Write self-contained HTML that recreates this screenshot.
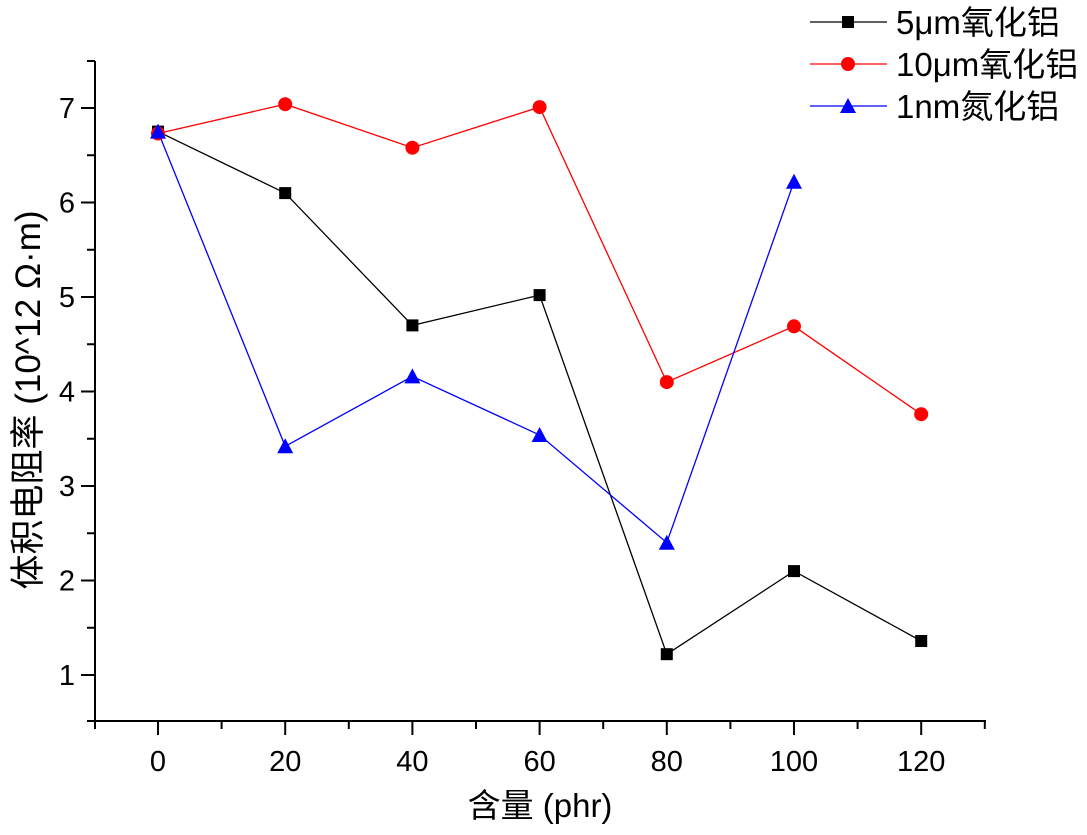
<!DOCTYPE html>
<html><head><meta charset="utf-8"><style>
html,body{margin:0;padding:0;background:#fff;}
svg text{font-family:"Liberation Sans","Noto Sans CJK SC",sans-serif;fill:#000;}
</style></head><body>
<svg width="1087" height="830" viewBox="0 0 1087 830" xmlns="http://www.w3.org/2000/svg">
<g stroke="#000" stroke-width="2" fill="none">
<line x1="95" y1="61" x2="95" y2="722"/>
<line x1="94" y1="721" x2="986" y2="721"/>
</g>
<g stroke="#000" stroke-width="2">
<line x1="158" y1="721" x2="158" y2="735"/><line x1="285.2" y1="721" x2="285.2" y2="735"/>
<line x1="412.4" y1="721" x2="412.4" y2="735"/><line x1="539.6" y1="721" x2="539.6" y2="735"/>
<line x1="666.8" y1="721" x2="666.8" y2="735"/><line x1="794" y1="721" x2="794" y2="735"/>
<line x1="921.2" y1="721" x2="921.2" y2="735"/>
<line x1="95" y1="721" x2="95" y2="729"/><line x1="221.6" y1="721" x2="221.6" y2="729"/>
<line x1="348.8" y1="721" x2="348.8" y2="729"/><line x1="476" y1="721" x2="476" y2="729"/>
<line x1="603.2" y1="721" x2="603.2" y2="729"/><line x1="730.4" y1="721" x2="730.4" y2="729"/>
<line x1="857.6" y1="721" x2="857.6" y2="729"/><line x1="984.8" y1="721" x2="984.8" y2="729"/>
<line x1="81" y1="675" x2="95" y2="675"/><line x1="81" y1="580.5" x2="95" y2="580.5"/>
<line x1="81" y1="486" x2="95" y2="486"/><line x1="81" y1="391.5" x2="95" y2="391.5"/>
<line x1="81" y1="297" x2="95" y2="297"/><line x1="81" y1="202.5" x2="95" y2="202.5"/>
<line x1="81" y1="108" x2="95" y2="108"/>
<line x1="87" y1="721" x2="95" y2="721"/><line x1="87" y1="627.75" x2="95" y2="627.75"/>
<line x1="87" y1="533.25" x2="95" y2="533.25"/><line x1="87" y1="438.75" x2="95" y2="438.75"/>
<line x1="87" y1="344.25" x2="95" y2="344.25"/><line x1="87" y1="249.75" x2="95" y2="249.75"/>
<line x1="87" y1="155.25" x2="95" y2="155.25"/><line x1="87" y1="61" x2="95" y2="61"/>
</g>
<g font-size="29" text-anchor="middle">
<text x="158" y="771">0</text><text x="285.2" y="771">20</text><text x="412.4" y="771">40</text>
<text x="539.6" y="771">60</text><text x="666.8" y="771">80</text><text x="794" y="771">100</text><text x="921.2" y="771">120</text>
</g>
<g font-size="29" text-anchor="end">
<text x="75" y="685">1</text><text x="75" y="590.5">2</text><text x="75" y="496">3</text>
<text x="75" y="401.5">4</text><text x="75" y="307">5</text><text x="75" y="212.5">6</text><text x="75" y="118">7</text>
</g>
<text x="540" y="817" font-size="33" text-anchor="middle">含量 (phr)</text>
<text transform="translate(40,400) rotate(-90)" font-size="35" text-anchor="middle">体积电阻率 (10^12  Ω·m)</text>

<polyline fill="none" stroke="#000" stroke-width="1.3" points="158,131.6 285.2,193.1 412.4,325.4 539.6,295.1 666.8,654.2 794,571.1 921.2,641"/>
<polyline fill="none" stroke="#f00" stroke-width="1.3" points="158,133.5 285.2,104.2 412.4,147.7 539.6,107.1 666.8,382.1 794,326.3 921.2,414.2"/>
<polyline fill="none" stroke="#00f" stroke-width="1.3" points="158,131.6 285.2,446.3 412.4,376.4 539.6,435 666.8,542.7 794,181.7"/>

<g fill="#000">
<rect x="152" y="125.6" width="12" height="12"/><rect x="279.2" y="187.1" width="12" height="12"/>
<rect x="406.4" y="319.4" width="12" height="12"/><rect x="533.6" y="289.1" width="12" height="12"/>
<rect x="660.8" y="648.2" width="12" height="12"/><rect x="788" y="565.1" width="12" height="12"/>
<rect x="915.2" y="635" width="12" height="12"/>
</g>
<g fill="#f00">
<circle cx="158" cy="133.5" r="7"/><circle cx="285.2" cy="104.2" r="7"/><circle cx="412.4" cy="147.7" r="7"/>
<circle cx="539.6" cy="107.1" r="7"/><circle cx="666.8" cy="382.1" r="7"/><circle cx="794" cy="326.3" r="7"/>
<circle cx="921.2" cy="414.2" r="7"/>
</g>
<g fill="#00f">
<polygon points="158,123.6 150,138.6 166,138.6"/><polygon points="285.2,438.3 277.2,453.3 293.2,453.3"/>
<polygon points="412.4,368.4 404.4,383.4 420.4,383.4"/><polygon points="539.6,427 531.6,442 547.6,442"/>
<polygon points="666.8,534.7 658.8,549.7 674.8,549.7"/><polygon points="794,173.7 786,188.7 802,188.7"/>
</g>

<line x1="810" y1="22" x2="887" y2="22" stroke="#000" stroke-width="1.3"/>
<rect x="842" y="16" width="12" height="12" fill="#000"/>
<line x1="810" y1="64" x2="887" y2="64" stroke="#f00" stroke-width="1.3"/>
<circle cx="848" cy="64" r="7" fill="#f00"/>
<line x1="810" y1="106" x2="887" y2="106" stroke="#00f" stroke-width="1.3"/>
<polygon points="848,98 840,113 856,113" fill="#00f"/>
<g font-size="33">
<text x="896" y="34">5μm氧化铝</text>
<text x="896" y="76">10μm氧化铝</text>
<text x="896" y="118">1nm氮化铝</text>
</g>
</svg>
</body></html>
